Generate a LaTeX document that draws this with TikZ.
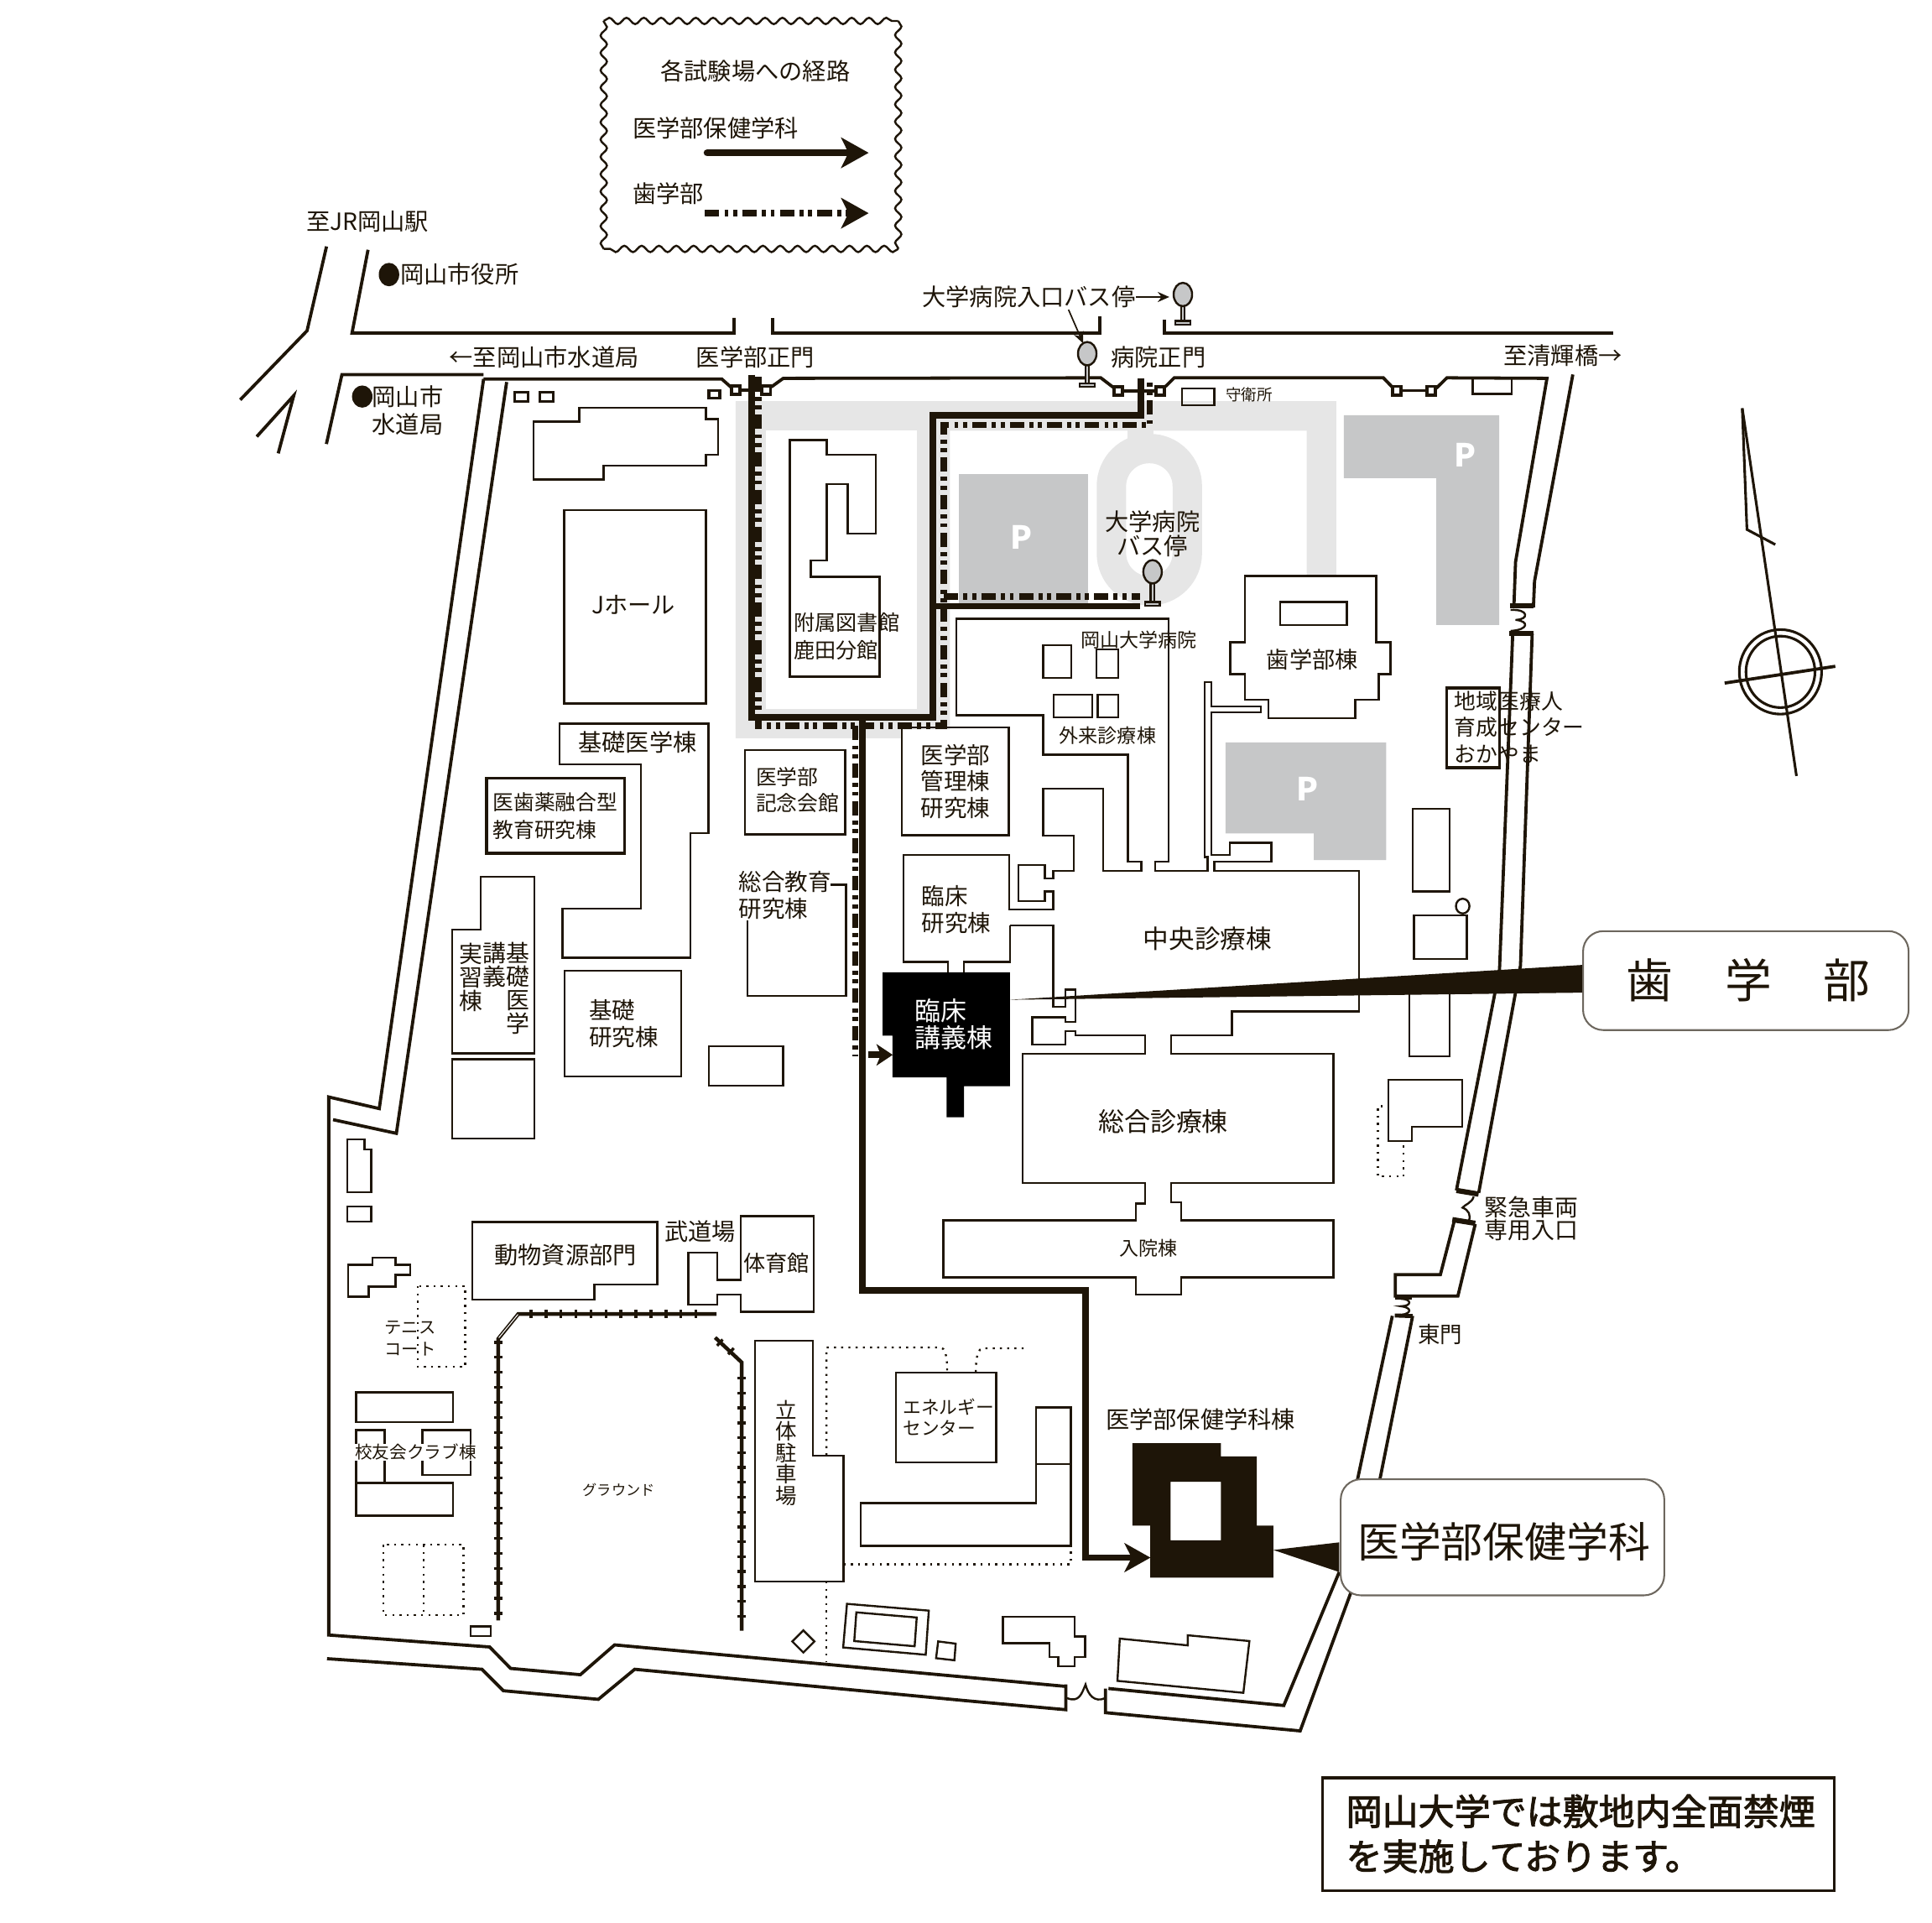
\documentclass[tikz,border=0pt]{standalone}
\usepackage{fontspec}
\usepackage{xcolor}
\setmainfont{Noto Sans CJK JP}
\newfontfamily\noticefont[FakeBold=2.2]{Noto Sans CJK JP}
\usetikzlibrary{arrows.meta,decorations.pathmorphing}
\definecolor{ink}{HTML}{1E1508}
\definecolor{roadgray}{HTML}{E6E6E6}
\definecolor{parkgray}{HTML}{C6C7C8}
\newcommand{\fs}[1]{\fontsize{#1}{9.2}\selectfont}
\tikzset{
    wall/.style={draw=ink,line width=1.1pt},
    bld/.style={draw=ink,line width=0.7pt},
    dots/.style={draw=ink,line width=0.7pt,dash pattern=on 0.7pt off 1.8pt},
    medroute/.style={draw=ink,line width=2.2pt},
    dentroute/.style={draw=ink,line width=2.1pt,dash pattern=on 5pt off 1.8pt on 1.4pt off 1.6pt on 1.4pt off 1.8pt},
    tick/.style={draw=ink,line width=1pt},
    tag/.style={font=\fs{#1},inner sep=0pt,align=left,text=ink},
    tag/.default=8.2,
    vtag/.style={font=\fontsize{#1}{#1}\selectfont,inner sep=0pt,align=center,text=ink},
    vtag/.default=8.1,
    ptag/.style={font=\fontsize{11}{11}\selectfont\bfseries,text=white,inner sep=0pt},
    callout/.style={draw=ink!65,line width=0.6pt,fill=white,rounded corners=7pt},
    wavy/.style={draw=ink,line width=0.7pt,decorate,decoration={snake,segment length=6pt,amplitude=1.1pt}}
}
\newcommand{\busstop}[3]{% x, y of the sign, y of the foot
    \draw[bld,fill=parkgray] (#1-1.5,#2) rectangle (#1+1.5,#3-3);
    \draw[bld,fill=parkgray] (#1-6,#3-3) rectangle (#1+6,#3);
    \draw[bld,fill=parkgray] (#1,#2) ellipse [x radius=7.5,y radius=9.5];
}
\begin{document}
\begin{tikzpicture}[x=0.015cm,y=-0.015cm]
    \useasboundingbox (0,0) rectangle (1568,1560.4);

    % Roads inside the campus
    \fill[roadgray] (597,325.5) -- (1084.5,325.5) -- (1084.5,467) -- (1060.5,467) -- (1060.5,349.5) -- (771,349.5) -- (771,592) -- (731,592) -- (731,599) -- (597,599) -- cycle;
    \fill[white] (621.8,349.5) rectangle (744.3,575);
    \draw[roadgray,line width=10.2pt,rounded corners=13pt] (902,364) rectangle (963.6,479.4);
    \fill[roadgray] (915,349) rectangle (936,356);

    % Car parks
    \fill[parkgray] (778,385) rectangle (883,491);
    \fill[parkgray] (1090.7,337) -- (1216.8,337) -- (1216.8,507.2) -- (1165.7,507.2) -- (1165.7,388) -- (1090.7,388) -- cycle;
    \fill[parkgray] (994.7,602.4) -- (1125,602.4) -- (1125,697.9) -- (1066.3,697.9) -- (1066.3,676.3) -- (994.7,676.3) -- cycle;
    \node[ptag] (parkA) at (829,436) {P};
    \node[ptag] (parkB) at (1189,369) {P};
    \node[ptag] (parkC) at (1061,640) {P};

    % City roads
    \draw[wall] (265,200) -- (249.2,268.4) -- (195,324.4);
    \draw[wall] (298.7,202.7) -- (285.7,270.2) -- (595.7,270.2) -- (595.7,258);
    \draw[wall] (627,258) -- (627,270.2) -- (892.5,270.2) -- (892.5,256.5);
    \draw[wall] (945,259.5) -- (945,270.2) -- (1309,270.2);
    \draw[wall] (208.4,354.3) -- (238.4,321) -- (225.8,367.9);
    \draw[wall] (264.9,360.3) -- (277.5,304) -- (392.5,304);

    % Campus wall
    \draw[wall] (392.5,307.5) -- (585.7,307.5) -- (593.6,314.5);
    \draw[wall] (626,314) -- (635.7,307) -- (893.4,306.6) -- (904.4,315);
    \draw[wall] (945.9,313.6) -- (953,306.6) -- (1122.7,306.6) -- (1130.8,315);
    \draw[wall] (1165.7,315) -- (1174.3,306.6) -- (1255.5,307) -- (1230,456) -- (1228.7,491.4);
    \draw[wall] (1276.5,303.9) -- (1245.4,471.7) -- (1244.5,493);
    \draw[wall] (1227.7,514.2) -- (1217,786.6) -- (1182,966);
    \draw[wall] (1243.5,514.2) -- (1234,783.6) -- (1200.1,968);
    \draw[wall] (1180.4,990.3) -- (1169,1034.3) -- (1132.4,1034.3) -- (1132.4,1051.7) -- (1183.2,1051.7) -- (1197.3,993.3);
    \draw[wall] (1130,1067.8) -- (1100.8,1205);
    \draw[wall] (1146.5,1067.8) -- (1119,1205);
    \draw[wall] (1086.9,1275.7) -- (1041.9,1384) -- (899.6,1370.2);
    \draw[wall] (1097.2,1290) -- (1055.2,1404.6) -- (897.2,1389.8) -- (897.2,1370.2);
    \draw[wall] (865,1368.5) -- (782.9,1360.9) -- (498.8,1334.8) -- (471,1359) -- (414.4,1353.9) -- (397.4,1336.5) -- (266.8,1326.8) -- (266.8,890.2) -- (307.8,899.6) -- (392.5,307.5);
    \draw[wall] (865,1366.8) -- (865,1387.4) -- (782.9,1380) -- (515.1,1354.6) -- (485.6,1379) -- (408.5,1372) -- (391.1,1354.6) -- (265.4,1346);
    \draw[wall] (270.3,908.6) -- (321.7,919.7) -- (411.2,310);

    % Gates
    \foreach \x/\y in {597/316.6,621.8/316.6,907.7/317.3,941.7/317.3,1133.7/317,1161.4/317}
        \draw[wall,fill=white] (\x-3.5,\y-3.5) rectangle (\x+3.5,\y+3.5);
    \draw[wall] (600.5,316.6) -- (618.3,316.6);
    \draw[wall] (911.2,317.3) -- (938.2,317.3);
    \draw[wall] (1137.2,317) -- (1157.9,317);
    \draw[wall,line width=1.8pt] (1225.4,491.4) -- (1244.5,491.4);
    \draw[wall,line width=1.8pt] (1225,514) -- (1244.5,514);
    \draw[bld] (1226,495) .. controls (1241,494) and (1241,503) .. (1230,503) .. controls (1241,504) and (1241,511) .. (1226,512);
    \draw[wall,line width=1.8pt] (1182,966) -- (1200,969);
    \draw[wall,line width=1.8pt] (1178.7,989.7) -- (1197.3,992.7);
    \draw[bld] (1196,971) .. controls (1195,976) and (1188,978) .. (1187,980) .. controls (1192,982) and (1194,986) .. (1192,991);
    \draw[wall,line width=1.4pt] (1132,1053) -- (1146,1053);
    \draw[wall,line width=1.4pt] (1132,1067.5) -- (1146.5,1068);
    \draw[bld] (1137,1054) .. controls (1146,1054) and (1146,1060) .. (1137,1060) .. controls (1146,1061) and (1146,1066) .. (1137,1067);
    \draw[bld] (866,1378) .. controls (876,1382) and (878,1374) .. (881,1367) .. controls (883,1375) and (888,1382) .. (897,1378);

    % Small sheds by the wall
    \draw[bld] (417.7,318.4) rectangle (428.6,325.7);
    \draw[bld] (438,318.4) rectangle (449,325.7);
    \draw[wall] (575.3,317) rectangle (584,323);
    \draw[bld] (959.3,315.4) rectangle (985.6,328.8);
    \draw[bld] (1195.3,307) rectangle (1226.8,319.7);

    % Buildings, north and west
    \draw[bld] (470,331) -- (573,331) -- (573,340) -- (583,340) -- (583,369) -- (573,369) -- (573,378) -- (490,378) -- (490,389) -- (433,389) -- (433,342) -- (470,342) -- cycle;
    \draw[bld] (458,414) rectangle (573,571); % hall
    \draw[bld] (641,357) -- (671,357) -- (671,369) -- (711,369) -- (711,433) -- (688,433) -- (688,393) -- (671,393) -- (671,455) -- (658,455) -- (658,468) -- (714,468) -- (714,549) -- (641,549) -- cycle; % library
    \draw[bld] (454.3,587.3) -- (574.9,587.3) -- (574.9,676) -- (560.3,676) -- (560.3,777.2) -- (456.4,777.2) -- (456.4,737.4) -- (520,737.4) -- (520,620.1) -- (454.3,620.1) -- cycle;
    \draw[bld,line width=0.9pt] (394.9,631.3) rectangle (507.1,692.4);
    \draw[bld] (390,711.6) -- (433.5,711.6) -- (433.5,854.7) -- (366.8,854.7) -- (366.8,754.4) -- (390,754.4) -- cycle;
    \draw[bld] (366.8,859.6) rectangle (433.5,923.7);
    \draw[bld] (458.1,787.9) rectangle (553,873.6);
    \draw[bld] (575.2,849) rectangle (635.6,881.2);
    \draw[bld] (604.7,608.8) rectangle (686,677);
    \draw[bld] (673.9,718) -- (686.7,718) -- (686.7,808.2) -- (606.8,808.2) -- (606.8,746.8);
    \draw[bld] (731.9,590.3) rectangle (818.7,677.8);

    % Hospital, one long outline
    \draw[bld] (819.7,751.1) -- (854.7,751.1) -- (854.7,817) -- (864.8,817) -- (864.8,803) -- (872.7,803) -- (872.7,829.2) -- (864.8,829.2) -- (864.8,825.5) -- (837.7,825.5) -- (837.7,847.7) -- (864.8,847.7) -- (864.8,836.8) -- (872.7,836.8) -- (872.7,840.1) -- (929.2,840.1) -- (929.2,855) -- (829.8,855) -- (829.8,959.9) -- (929.2,959.9) -- (929.2,976.6) -- (921.8,976.6) -- (921.8,990.3) -- (765.5,990.3) -- (765.5,1036.5) -- (921.8,1036.5) -- (921.8,1050.5) -- (958.5,1050.5) -- (958.5,1036.5) -- (1082.1,1036.5) -- (1082.1,990.3) -- (958.5,990.3) -- (958.5,975.7) -- (950.6,975.7) -- (950.6,959.9) -- (1082.1,959.9) -- (1082.1,855) -- (950.6,855) -- (950.6,840.1) -- (999.7,840.1) -- (999.7,820.7) -- (1103,820.7) -- (1103,706.7) -- (985.6,706.7) -- (985.6,699.4) -- (1031.9,699.4) -- (1031.9,683.9) -- (998,683.9) -- (998,693.9) -- (983.2,693.9) -- (983.2,578) -- (1023.3,578) -- (1023.3,573.2) -- (983.2,573.2) -- (983.2,553.7) -- (977.5,553.7) -- (977.5,695.4) -- (980,695.4) -- (980,706.7) -- (937.6,706.7) -- (937.6,699.4) -- (948.6,699.4) -- (948.6,502) -- (776,502) -- (776,580.5) -- (846.6,580.5) -- (846.6,612.4) -- (915.5,612.4) -- (915.5,699.4) -- (926.3,699.4) -- (926.3,706.7) -- (895.4,706.7) -- (895.4,640) -- (846.7,640) -- (846.7,678.1) -- (871.6,678.1) -- (871.6,706.7) -- (854.7,706.7) -- (854.7,713) -- (847.9,713) -- (847.9,701.8) -- (826.4,701.8) -- (826.4,731.3) -- (847.9,731.3) -- (847.9,723.4) -- (854.7,723.4) -- (854.7,738) -- (819.1,738) -- (819.1,693.9) -- (733.3,693.9) -- (733.3,780.5) -- (769.4,780.5) -- (769.4,789);
    \draw[bld] (782.4,789) -- (782.4,780.5) -- (819.7,780.5) -- (819.7,751.1);
    \draw[bld] (846.6,523.4) rectangle (869.5,550);
    \draw[bld] (890,527) rectangle (907.7,550);
    \draw[bld] (855.2,563.8) rectangle (886.3,582);
    \draw[bld] (891,563.8) rectangle (907.7,582);
    \draw[bld] (1010.4,467.4) -- (1117,467.4) -- (1117,521.2) -- (1128.4,521.2) -- (1128.4,547) -- (1118.9,547) -- (1118.9,568) -- (1099.8,568) -- (1099.8,582.6) -- (1029.5,582.6) -- (1029.5,568) -- (1010.4,568) -- (1010.4,547) -- (998.5,547) -- (998.5,521.2) -- (1010.4,521.2) -- cycle;
    \draw[bld] (1039.1,488.4) rectangle (1093,507.2);

    % Buildings, east side
    \draw[bld,line width=0.9pt] (1174.3,558.3) rectangle (1217.3,623);
    \draw[bld] (1146.5,656.5) rectangle (1176.4,723.4);
    \draw[bld] (1187.1,735.3) ellipse [x radius=5.5,y radius=6];
    \draw[bld] (1147.6,742.9) rectangle (1190.5,778.1);
    \draw[bld] (1143.7,800) rectangle (1176.4,857);
    \draw[bld] (1126.7,876.3) -- (1186.6,876.3) -- (1186.6,914.3) -- (1145.9,914.3) -- (1145.9,925.8) -- (1126.7,925.8) -- cycle;
    \draw[dots] (1122.3,897.6) -- (1118.3,897.6) -- (1118.3,954.7) -- (1139.2,954.7) -- (1139.2,928);

    % Buildings, south west
    \draw[bld] (282,924.6) -- (295.9,924.6) -- (295.9,932.9) -- (301.2,932.9) -- (301.2,967.3) -- (282,967.3) -- cycle;
    \draw[bld] (282,979.1) rectangle (301.2,991.3);
    \draw[bld] (282.4,1026.4) -- (302.2,1026.4) -- (302.2,1020.5) -- (321,1020.5) -- (321,1026.4) -- (333.1,1026.4) -- (333.1,1034.4) -- (321,1034.4) -- (321,1044.1) -- (299.1,1044.1) -- (299.1,1052.1) -- (282.4,1052.1) -- cycle;
    \draw[dots] (339,1043.7) rectangle (377.6,1109);
    \draw[bld] (289,1129.9) rectangle (367.5,1154.2);
    \draw[bld] (289,1203.5) rectangle (367.5,1229.9);
    \draw[bld] (289,1203.5) -- (289,1160.4) -- (312.3,1160.4) -- (312.3,1203.5);
    \draw[bld] (342.9,1160.4) rectangle (381.8,1197);
    \draw[dots] (311.2,1253.5) rectangle (376.2,1310.8);
    \draw[dots] (343.9,1253.5) -- (343.9,1310.8);
    \draw[bld] (382.1,1319.9) rectangle (398.4,1327.5);
    \draw[bld] (383.5,991.6) -- (533.5,991.6) -- (533.5,1042.3) -- (482.5,1042.3) -- (482.5,1054.5) -- (383.5,1054.5) -- cycle;
    \draw[bld] (601.3,986.8) -- (660.3,986.8) -- (660.3,1064.6) -- (601.3,1064.6) -- (601.3,1050.7) -- (582.2,1050.7) -- (582.2,1058.7) -- (558.5,1058.7) -- (558.5,1016.3) -- (582.2,1016.3) -- (582.2,1038.5) -- (601.3,1038.5) -- cycle;

    % Ground fence
    \draw[tick,line width=1.3pt] (404.3,1315) -- (404.3,1086.5) -- (420.6,1066.3) -- (581.5,1066.3);
    \draw[white,line width=0.3pt] (404.8,1085.6) -- (420.4,1066.6);
    \draw[tick,line width=1.3pt] (580.4,1085.4) -- (602,1105.6) -- (602,1323.3);
    \foreach \i in {0,...,11}
        \draw[tick] (431+\i*12.16,1062.8) -- (431+\i*12.16,1069.8);
    \foreach \i in {0,...,18}
        \draw[tick] (400.8,1089.2+\i*12.23) -- (407.8,1089.2+\i*12.23);
    \foreach \i in {0,...,16}
        \draw[tick] (598.5,1118.4+\i*12.07) -- (605.5,1118.4+\i*12.07);
    \draw[tick] (586.5,1087) -- (582,1092);
    \draw[tick] (595.5,1094) -- (591,1099);

    % Buildings, south east
    \draw[bld] (612.7,1087.8) -- (659.6,1087.8) -- (659.6,1181.3) -- (684.6,1181.3) -- (684.6,1283.4) -- (612.7,1283.4) -- cycle;
    \draw[dots] (670.7,1181) -- (670.7,1093.4) -- (762.8,1093.4) .. controls (767,1093.4) and (768.7,1100) .. (768.7,1112);
    \draw[dots] (792,1113.4) .. controls (792,1100) and (794,1094.1) .. (798.1,1094.1) -- (834.6,1094.1);
    \draw[dots] (670.7,1283.4) -- (670.7,1348.7);
    \draw[dots] (684.6,1269.5) -- (869.2,1269.5) -- (869.2,1254.4);
    \draw[bld] (727,1114) rectangle (808.4,1186.6);
    \draw[bld] (840.7,1142.2) -- (869.2,1142.2) -- (869.2,1254.4) -- (698.4,1254.4) -- (698.4,1219.6) -- (840.7,1219.6) -- cycle;
    \draw[bld] (840.7,1188) -- (869.2,1188);
    \draw[bld] (652,1323) -- (661,1332) -- (652,1341) -- (643,1332) -- cycle;
    \draw[bld] (687.4,1301.5) -- (753.8,1307) -- (751.3,1342.8) -- (684.3,1336.9) -- cycle;
    \draw[bld] (695,1308.4) -- (744,1312.6) -- (742.3,1335.9) -- (693.3,1331.7) -- cycle;
    \draw[bld] (761.4,1332) -- (775.6,1333.8) -- (774.6,1347.3) -- (759.7,1345.6) -- cycle;
    \draw[bld] (814,1311.8) -- (872.3,1311.8) -- (872.3,1328) -- (880.8,1328) -- (880.8,1344.5) -- (872.3,1344.5) -- (872.3,1352) -- (858.9,1352) -- (858.9,1344.5) -- (851.6,1344.5) -- (851.6,1333.4) -- (814,1333.4) -- cycle;
    \draw[bld] (908.8,1329.7) -- (964,1335.2) -- (964,1327) -- (1014,1331.7) -- (1009.1,1373.7) -- (906.9,1364) -- cycle;

    % Target buildings
    \fill[black] (716.4,789) -- (819.7,789) -- (819.7,881.4) -- (782.4,881.4) -- (782.4,906.7) -- (768.3,906.7) -- (768.3,874.2) -- (724.3,874.2) -- (724.3,840.4) -- (716.4,840.4) -- cycle;
    \fill[ink,even odd rule] (919,1171.1) -- (990.8,1171.1) -- (990.8,1181.8) -- (1020,1181.8) -- (1020,1238) -- (1033.4,1238) -- (1033.4,1280.2) -- (933.6,1280.2) -- (933.6,1238) -- (919,1238) -- cycle
        (950.1,1202.4) rectangle (990.8,1249.9);

    % Routes
    \draw[dentroute] (615.5,306) -- (615.5,589) -- (766,589) -- (766,345) -- (933,345) -- (933,307);
    \draw[dentroute] (766,484) -- (925,484);
    \draw[dentroute] (694,589) -- (694,857);
    \draw[medroute] (610,304) -- (610,582) -- (757,582) -- (757,337) -- (926,337) -- (926,307);
    \draw[medroute] (757,492) -- (925,492);
    \draw[medroute,-{Stealth[length=9pt,width=10pt,inset=2.5pt]}] (700,582) -- (700,1047) -- (881,1047) -- (881,1264) -- (933.7,1264);
    \draw[draw=ink,line width=2.4pt,-{Stealth[length=5.6pt,width=7.4pt,inset=1.5pt]}] (705,856) -- (724.5,856);

    % Bus stops
    \busstop{960}{239}{263.5}
    \busstop{882.4}{287}{314}
    \busstop{935.4}{464}{491.4}
    \coordinate (ptrA) at (867.2,251.3);
    \coordinate (ptrB) at (879.1,278.7);
    \draw[draw=ink,line width=0.5pt,-{Stealth[length=4pt,width=3.5pt]}] (ptrA) -- (ptrB);
    \coordinate (ptrC) at (922,241);
    \coordinate (ptrD) at (949,241);
    \draw[draw=ink,line width=0.5pt,-{Stealth[length=4pt,width=3.5pt]}] (ptrC) -- (ptrD);

    % North mark
    \coordinate (northTop) at (1414,331.3);
    \coordinate (northFoot) at (1458,629.7);
    \coordinate (northMid) at (1445,545.2);
    \draw[draw=ink,line width=0.9pt] (northTop) -- (northFoot);
    \draw[draw=ink,line width=0.9pt] (northTop) -- (1417.8,429.7) -- (1440.8,441.9);
    \draw[draw=ink,line width=0.9pt] (northMid) circle [x radius=33.4,y radius=34.3];
    \draw[draw=ink,line width=0.9pt] (northMid) circle [x radius=28,y radius=29];
    \draw[draw=ink,line width=1.1pt] (1399.7,554.3) -- (1489.5,540.7);

    % Legend
    \draw[wavy] (490,17) -- (729,17);
    \draw[wavy] (729,17) -- (729,202);
    \draw[wavy] (729,202) -- (490,202);
    \draw[wavy] (490,202) -- (490,17);
    \node[tag] (legendTitle) at (613,58) {各試験場への経路};
    \node[tag,anchor=west] (legendMed) at (513,104) {医学部保健学科};
    \node[tag,anchor=west] (legendDent) at (513,157) {歯学部};
    \coordinate (legMedA) at (574,124);
    \coordinate (legMedB) at (705,124);
    \coordinate (legDentA) at (572,173);
    \coordinate (legDentB) at (705,173);
    \draw[draw=ink,line width=2.5pt,line cap=round,-{Stealth[length=9.5pt,width=10.5pt,inset=2.5pt]}] (legMedA) -- (legMedB);
    \draw[dentroute,-{Stealth[length=9.5pt,width=10.5pt,inset=2.5pt]}] (legDentA) -- (legDentB);

    % Place names outside the campus
    \node[tag] (toStation) at (298.3,179.8) {至JR岡山駅};
    \fill[ink] (315.7,222.8) ellipse [x radius=8.3,y radius=9.5];
    \node[tag] (cityHall) at (373,222.8) {岡山市役所};
    \fill[ink] (294,321.8) ellipse [x radius=8.3,y radius=9];
    \node[tag,align=center] (waterBureau) at (330.9,333) {岡山市\\[0.3pt]水道局};
    \node[tag] (toWater) at (441.6,290) {←至岡山市水道局};
    \node[tag] (medGate) at (613,290) {医学部正門};
    \node[tag] (hospGate) at (940.2,290.2) {病院正門};
    \node[tag] (busEntry) at (835,241) {大学病院入口バス停};
    \node[tag] (toBridge) at (1268.4,288.7) {至清輝橋→};
    \node[tag=5.4] (guardRoom) at (1013.8,320.3) {守衛所};
    \node[tag,align=center] (busHosp) at (935.4,433) {大学病院\\[-0.7pt]バス停};

    % Building names
    \node[tag] (hallName) at (514,491) {Jホール};
    \node[tag=7.3,anchor=west] (libName) at (644,516.5) {附属図書館\\[0.6pt]鹿田分館};
    \node[tag] (basicMed) at (517.5,602.5) {基礎医学棟};
    \node[tag=7.2,anchor=west] (fusion) at (399.5,662) {医歯薬融合型\\[0.3pt]教育研究棟};
    \node[vtag] (labA) at (420.3,802) {基\\礎\\医\\学};
    \node[vtag] (labB) at (401,783) {講\\義};
    \node[vtag] (labC) at (382,793) {実\\習\\棟};
    \node[tag=8,anchor=west] (basicRes) at (477.6,830.5) {基礎\\研究棟};
    \node[tag=7.2,anchor=west] (memorial) at (613,641) {医学部\\記念会館};
    \node[tag=8,anchor=west] (generalEd) at (599,726.5) {総合教育\\研究棟};
    \node[tag=8,anchor=west] (admin) at (746.8,634) {医学部\\管理棟\\研究棟};
    \node[tag=8,anchor=west] (clinRes) at (747.5,738) {臨床\\研究棟};
    \node[tag=9,anchor=west,text=white] (clinLect) at (741.8,831) {臨床\\講義棟};
    \node[tag=6.7] (hospName) at (924.5,519.4) {岡山大学病院};
    \node[tag=6.7] (outpatient) at (899,597.2) {外来診療棟};
    \node[tag=7.9] (dentBld) at (1065,535) {歯学部棟};
    \node[tag=7.5,anchor=west] (community) at (1180,590) {地域医療人\\育成センター\\おかやま};
    \node[tag=8.9] (central) at (980,762) {中央診療棟};
    \node[tag=9] (general) at (944,910) {総合診療棟};
    \node[tag=6.7] (ward) at (932,1013) {入院棟};
    \node[tag=8.1,align=center] (emergency) at (1243,989) {緊急車両\\[-1.5pt]専用入口};
    \node[tag=7.7] (eastGate) at (1169,1083) {東門};
    \node[tag] (animal) at (458.9,1018.7) {動物資源部門};
    \node[tag] (budo) at (568.3,999.6) {武道場};
    \node[tag=7.6] (gym) at (630.1,1025) {体育館};
    \node[tag=5.9,align=center] (tennis) at (333,1086) {テニス\\[-1.6pt]コート};
    \node[tag=6,fill=white] (clubHouse) at (337.3,1178.5) {校友会クラブ棟};
    \node[tag=5] (ground) at (502.3,1209) {グラウンド};
    \node[vtag=7.4] (parkTower) at (638.4,1179) {立\\体\\駐\\車\\場};
    \node[tag=6.3,anchor=west] (energy) at (732.5,1150) {エネルギー\\[-1.8pt]センター};
    \node[tag] (healthBld) at (974.4,1152) {医学部保健学科棟};

    % Callouts
    \fill[ink] (819.7,811.3) -- (1284.8,783) -- (1284.8,805.5) -- cycle;
    \draw[callout] (1284.8,755.6) rectangle (1549,835.9);
    \node[tag=16.2] (dentBox) at (1419,795.7) {歯\hspace{18pt}学\hspace{18pt}部};
    \fill[ink] (1033.4,1257.8) -- (1086.9,1251.6) -- (1086.9,1275.7) -- cycle;
    \draw[callout] (1088.1,1200.4) rectangle (1350.7,1294.6);
    \node[tag=14.5] (healthBox) at (1220.6,1251) {医学部保健学科};

    % Notice
    \draw[draw=ink,line width=1pt] (1073.5,1442.8) rectangle (1488.7,1534.3);
    \node[font=\noticefont\fontsize{12.5}{15.6}\selectfont,text=ink,inner sep=0pt,align=left,anchor=west] (notice) at (1092,1488) {岡山大学では敷地内全面禁煙\\を実施しております。};
\end{tikzpicture}
\end{document}
